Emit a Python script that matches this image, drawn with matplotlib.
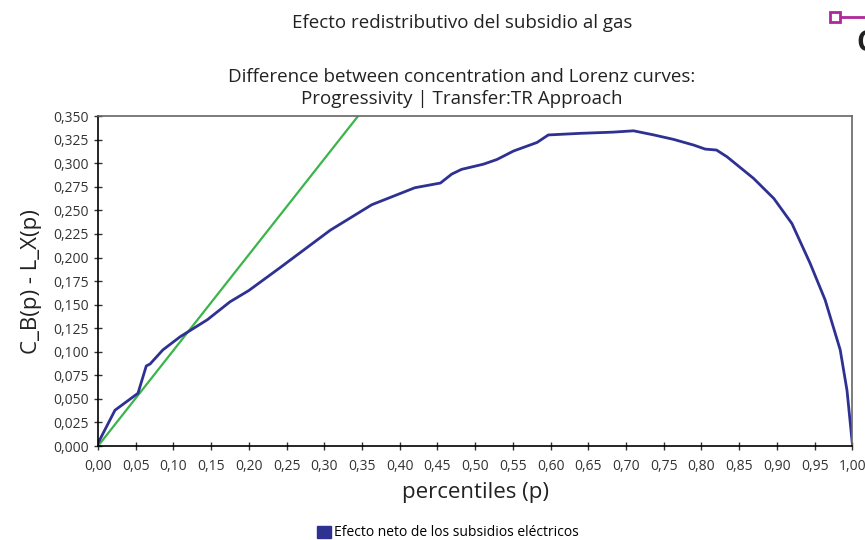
import matplotlib
matplotlib.use("Agg")
import matplotlib.pyplot as plt
from matplotlib.ticker import FuncFormatter, MultipleLocator
from matplotlib.patches import Patch

plt.rcParams['font.family'] = ['Open Sans', 'DejaVu Sans']

# curva de diferencia C_B(p) - L_X(p)
p_vals = [0.0, 0.0225, 0.053, 0.064, 0.069, 0.086, 0.109, 0.145, 0.175, 0.20,
          0.241, 0.308, 0.363, 0.42, 0.454, 0.469, 0.482, 0.511, 0.529, 0.551,
          0.582, 0.597, 0.639, 0.683, 0.71, 0.737, 0.763, 0.79, 0.805, 0.82,
          0.834, 0.869, 0.896, 0.92, 0.944, 0.964, 0.984, 0.993, 1.0]
diff_vals = [0.003, 0.038, 0.056, 0.085, 0.087, 0.102, 0.116, 0.134, 0.153, 0.165,
             0.189, 0.229, 0.256, 0.274, 0.279, 0.2885, 0.2935, 0.299, 0.304, 0.313,
             0.322, 0.330, 0.3317, 0.333, 0.3344, 0.330, 0.3253, 0.3192, 0.315, 0.314,
             0.3068, 0.284, 0.2626, 0.236, 0.194, 0.155, 0.102, 0.059, 0.003]

# linea de referencia (verde)
ref_p = [0.0, 0.985]
ref_y = [0.0, 1.0]

title = "Efecto redistributivo del subsidio al gas"
subtitle = "Difference between concentration and Lorenz curves:\nProgressivity | Transfer:TR Approach"
legend_label = "Efecto neto de los subsidios eléctricos"

blue = "#2E3192"
green = "#3BB44A"

fig = plt.figure(figsize=(8.65, 5.40), dpi=100)
ax = fig.add_axes([0.1133, 0.174, 0.872, 0.611])

ax.plot(ref_p, ref_y, color=green, lw=1.6)
ax.plot(p_vals, diff_vals, color=blue, lw=2.0)

ax.set_xlim(0, 1)
ax.set_ylim(0, 0.35)
ax.xaxis.set_major_locator(MultipleLocator(0.05))
ax.yaxis.set_major_locator(MultipleLocator(0.025))
ax.xaxis.set_major_formatter(FuncFormatter(lambda v, pos: f"{v:.2f}".replace(".", ",")))
ax.yaxis.set_major_formatter(FuncFormatter(lambda v, pos: f"{v:.3f}".replace(".", ",")))
ax.tick_params(direction='inout', length=6, width=1, labelsize=10, colors='#333333')
ax.tick_params(axis='x', pad=6)

for s in ['left', 'bottom']:
    ax.spines[s].set_color('black')
    ax.spines[s].set_linewidth(1.2)
for s in ['top', 'right']:
    ax.spines[s].set_color('#666666')
    ax.spines[s].set_linewidth(1.2)

ax.set_xlabel("percentiles (p)", fontsize=16, color='#222222', labelpad=6)
ax.set_ylabel("C_B(p) - L_X(p)", fontsize=16, color='#222222', labelpad=8)

fig.text(0.534, 0.958, title, ha='center', va='center', fontsize=13.5, color='#222222')
fig.text(0.534, 0.837, subtitle, ha='center', va='center', fontsize=13.5,
         color='#222222', linespacing=1.25)

fig.legend(handles=[Patch(color=blue, label=legend_label)], loc='center',
           bbox_to_anchor=(0.518, 0.013), frameon=False, fontsize=10,
           handlelength=1.0, handleheight=1.0, handletextpad=0.2)

# marca decorativa arriba a la derecha
fig.add_artist(plt.Line2D([0.965, 1.0], [0.968, 0.968], color='#B0279B', lw=2))
fig.add_artist(plt.Line2D([0.965], [0.968], marker='s', markersize=7,
                          markerfacecolor='white', markeredgecolor='#B0279B',
                          markeredgewidth=2, linestyle='none'))
fig.text(0.99, 0.92, "C", fontsize=20, fontweight='bold', color='#222222',
         ha='left', va='center')

fig.savefig("out.png", dpi=100)
